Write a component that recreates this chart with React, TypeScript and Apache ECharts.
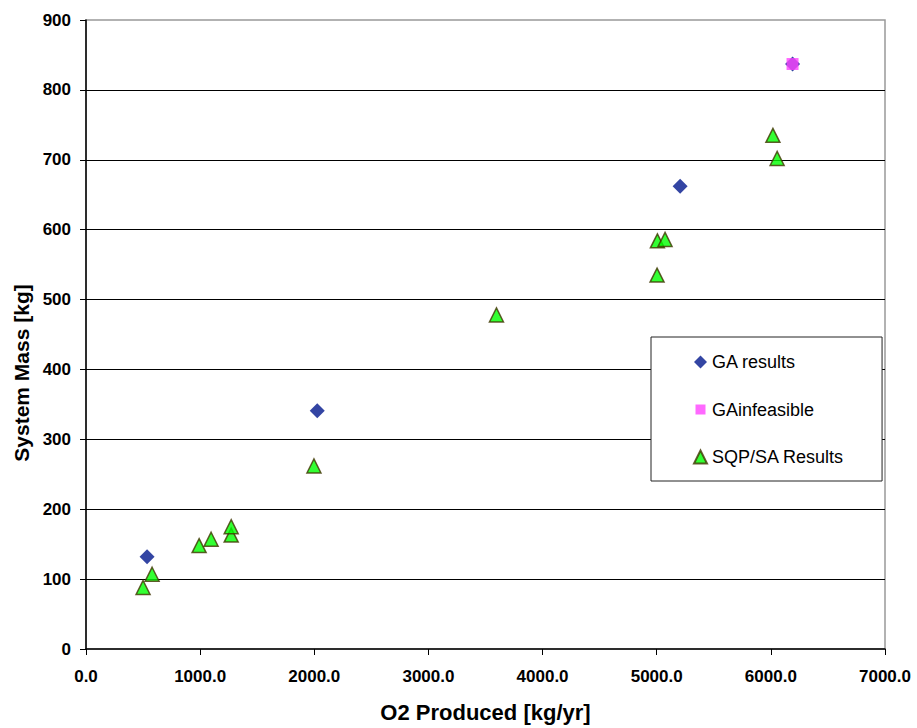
import React, { useEffect, useRef } from "react";
import * as echarts from "echarts";

const xTicks = [0, 1000, 2000, 3000, 4000, 5000, 6000, 7000];
const yTicks = [0, 100, 200, 300, 400, 500, 600, 700, 800, 900];

const gaResults: [number, number][] = [
  [535, 132],
  [2026, 341],
  [5205, 662],
  [6190, 837],
];

const gaInfeasible: [number, number][] = [[6190, 837]];

const sqpResults: [number, number][] = [
  [500, 88],
  [579, 107],
  [991, 148],
  [1096, 157],
  [1272, 163],
  [1272, 175],
  [1997, 262],
  [3596, 478],
  [5003, 535],
  [5006, 584],
  [5073, 586],
  [6018, 735],
  [6055, 702],
];

const seriesNames = ["GA results", "GAinfeasible", "SQP/SA Results"];
const xTitle = "O2 Produced [kg/yr]";
const yTitle = "System Mass [kg]";

const FONT = "'Liberation Sans', Arial, Helvetica, sans-serif";

export default function App() {
  const ref = useRef<HTMLDivElement>(null);

  useEffect(() => {
    if (!ref.current) return;
    const chart = echarts.init(ref.current, undefined, { renderer: "svg" });
    chart.setOption({
      animation: false,
      backgroundColor: "#ffffff",
      textStyle: { fontFamily: FONT },
      grid: {
        left: 86,
        right: 32,
        top: 20,
        bottom: 75,
        show: true,
        borderColor: "#999999",
        borderWidth: 1.5,
        backgroundColor: "transparent",
      },
      xAxis: {
        type: "value",
        min: xTicks[0],
        max: xTicks[xTicks.length - 1],
        interval: 1000,
        name: xTitle,
        nameLocation: "middle",
        nameGap: 52,
        nameTextStyle: {
          fontFamily: FONT,
          fontSize: 22,
          fontWeight: "bold",
          color: "#000",
        },
        axisLine: { show: true, lineStyle: { color: "#000", width: 1.5 } },
        axisTick: { show: true, length: 6, lineStyle: { color: "#000", width: 1 } },
        axisLabel: {
          formatter: (v: number) => v.toFixed(1),
          fontFamily: FONT,
          fontSize: 17,
          fontWeight: "bold",
          color: "#000",
          margin: 19,
        },
        splitLine: { show: false },
      },
      yAxis: {
        type: "value",
        min: yTicks[0],
        max: yTicks[yTicks.length - 1],
        interval: 100,
        axisLine: { show: true, lineStyle: { color: "#000", width: 1.5 } },
        axisTick: { show: true, length: 6, lineStyle: { color: "#000", width: 1 } },
        axisLabel: {
          fontFamily: FONT,
          fontSize: 17,
          fontWeight: "bold",
          color: "#000",
          margin: 15,
        },
        splitLine: {
          show: true,
          showMinLine: false,
          showMaxLine: false,
          lineStyle: { color: "#000", width: 1 },
        },
      },
      legend: {
        left: 651,
        top: 337,
        orient: "vertical",
        selectedMode: false,
        backgroundColor: "#ffffff",
        borderColor: "#222222",
        borderWidth: 1,
        padding: [16, 38, 15, 42],
        itemGap: 29.5,
        itemWidth: 13,
        itemHeight: 13,
        textStyle: {
          fontFamily: FONT,
          fontSize: 18,
          lineHeight: 18,
          color: "#000",
        },
        data: [
          { name: seriesNames[0], icon: "diamond" },
          { name: seriesNames[1], icon: "path://M0 0 M1.5 1.5 L11.5 1.5 L11.5 11.5 L1.5 11.5 Z M13 13" },
          { name: seriesNames[2], icon: "triangle" },
        ],
      },
      graphic: [
        {
          type: "text",
          x: 21,
          y: 373,
          rotation: Math.PI / 2,
          style: {
            text: yTitle,
            font: `bold 21px ${FONT}`,
            fill: "#000",
            align: "center",
            verticalAlign: "middle",
          },
        },
      ],
      series: [
        {
          name: seriesNames[0],
          type: "scatter",
          data: gaResults,
          symbol: "diamond",
          symbolSize: 15,
          itemStyle: { color: "#00168c" },
          z: 2,
        },
        {
          name: seriesNames[1],
          type: "scatter",
          data: gaInfeasible,
          symbol: "rect",
          symbolSize: 12,
          itemStyle: { color: "#ff44ff" },
          z: 3,
        },
        {
          name: seriesNames[2],
          type: "scatter",
          data: sqpResults,
          symbol: "triangle",
          symbolSize: 14,
          itemStyle: { color: "#00ff00", borderColor: "#403400", borderWidth: 1.5 },
          z: 4,
        },
      ],
    });
    return () => chart.dispose();
  }, []);

  return (
    <div
      ref={ref}
      style={{ position: "fixed", left: 0, top: 0, width: 917, height: 728 }}
    />
  );
}
